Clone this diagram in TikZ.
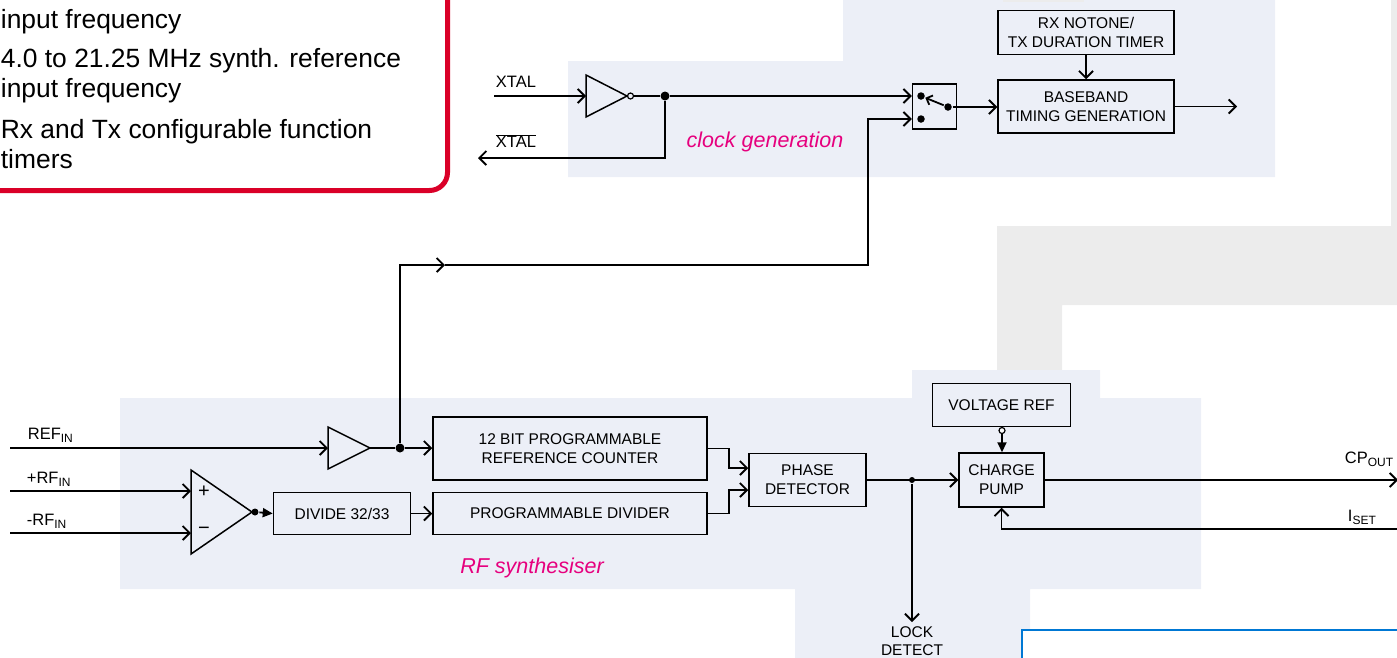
\documentclass[tikz,border=0pt]{standalone}
\usepackage{fontspec}
\setmainfont{Liberation Sans}
\usepackage{tikz}
\usetikzlibrary{arrows.meta}
\usetikzlibrary{positioning}

\definecolor{bandblue}{RGB}{236,239,247}
\definecolor{bandgrey}{RGB}{236,236,236}
\definecolor{alertred}{RGB}{218,0,40}
\definecolor{tagpink}{RGB}{230,0,126}
\definecolor{rimblue}{RGB}{0,120,212}

\tikzset{
  openhead/.tip={Straight Barb[length=7pt,width=14pt,line width=1.9pt]},
  fullhead/.tip={Triangle[length=10pt,width=9pt]},
  armhead/.tip={Straight Barb[length=5pt,width=10pt,line width=1.8pt]}
}
\newcommand{\lowtxt}[1]{\raisebox{-0.45ex}{\fontsize{12}{12}\selectfont #1}}

\begin{document}
\begin{tikzpicture}[x=1pt,y=-1pt,line width=1.8pt,
  blk/.style={draw,line width=1.5pt,inner sep=0pt,align=center,font=\fontsize{15.5}{19}\selectfont},
  pin/.style={inner sep=0pt,font=\fontsize{16.5}{18}\selectfont},
  area/.style={inner sep=0pt,font=\fontsize{21.5}{24}\selectfont\itshape,text=tagpink},
  feat/.style={anchor=base west,inner sep=0pt,font=\fontsize{26.4}{30}\selectfont},
  dot/.style={circle,fill,inner sep=0pt,minimum size=9pt}]
\useasboundingbox (0,0) rectangle (1397,657);
% shaded areas
\fill[bandgrey] (997,226) -- (1402,226) -- (1402,305) -- (1062,305) -- (1062,370) -- (997,370) -- cycle;
\fill[bandgrey] (1391,-2) rectangle (1402,226);
\fill[bandblue] (568,61) -- (843,61) -- (843,-2) -- (1275,-2) -- (1275,177) -- (568,177) -- cycle;
\fill[bandgrey] (1003,-2) rectangle (1084,1.5);
\fill[bandblue] (120,398) -- (912,398) -- (912,370) -- (1100,370) -- (1100,398) -- (1201,398) -- (1201,589)
  -- (1030,589) -- (1030,660) -- (795,660) -- (795,589) -- (120,589) -- cycle;
\draw[rimblue,line width=1.5pt,fill=white] (1022,630) rectangle (1405,665);
\draw[alertred,line width=5pt,rounded corners=18pt] (-30,-30) rectangle (447.5,190.5);
%
\node[feat] (F1) at (0,28) {input frequency};
\node[feat] (F2) at (0,67) {4.0 to 21.25 MHz synth. reference};
\node[feat] (F3) at (0,97) {input frequency};
\node[feat] (F4) at (0,138) {Rx and Tx configurable function};
\node[feat] (F5) at (0,168) {timers};
%
% clock generation
\node[blk,minimum width=176pt,minimum height=53pt] (BBT) at (1086,106.5) {BASEBAND\\TIMING GENERATION};
\node[blk,minimum width=176pt,minimum height=44pt,above=24pt of BBT] (RXT) {RX NOTONE/\\TX DURATION TIMER};
\node[blk,minimum width=44pt,minimum height=45pt] (SW) at (934.5,106.5) {};
\node[dot,minimum size=7.5pt] (SWT) at (921,96) {};
\node[dot,minimum size=7.5pt] (SWB) at (921,119) {};
\node[dot,minimum size=7.5pt] (SWP) at (948,107) {};
\coordinate (XIN) at (494,96);
\coordinate (INV) at (586,96);
\node[circle,draw,line width=1.2pt,inner sep=0pt,minimum size=6pt] (BUB) at (630.5,96) {};
\node[dot] (XJ) at (665,96) {};
\coordinate (XOUT) at (478,158);
\coordinate (BOUT) at (1237,106.5);
\coordinate (MID) at (445,265);
\coordinate (KNEE) at (868,265);
\node[pin] (XTAL) at (516,82) {XTAL};
\node[pin] (XTALN) at (516,141) {$\overline{\mbox{XTAL}}$};
\node[area] (CLK) at (765,142) {clock generation};
\draw[line width=1.5pt] (INV) -- ++(0,-21) -- ++(41,21) -- ++(-41,21) -- cycle;
%
% RF synthesiser
\node[blk,minimum width=274pt,minimum height=63pt] (REFC) at (570,448.5) {12 BIT PROGRAMMABLE\\REFERENCE COUNTER};
\node[blk,minimum width=274pt,minimum height=42pt,below=11pt of REFC] (PDIV) {PROGRAMMABLE DIVIDER};
\node[blk,minimum width=137pt,minimum height=42pt,left=21pt of PDIV] (DIV) {DIVIDE 32/33};
\node[blk,minimum width=117pt,minimum height=53pt] (PD) at (807.5,480) {PHASE\\DETECTOR};
\node[blk,minimum width=85pt,minimum height=54pt] (CP) at (1001.5,480) {CHARGE\\PUMP};
\node[blk,minimum width=138pt,minimum height=43pt,above=25pt of CP] (VREF) {VOLTAGE REF};
\node[circle,draw,fill=white,line width=1.2pt,inner sep=0pt,minimum size=6pt] (VDOT) at (1002,430.5) {};
\coordinate (BUF) at (328,448);
\coordinate (CMP) at (191,512);
\coordinate (RIN) at (10,448);
\coordinate (PIN) at (10,491);
\coordinate (NIN) at (10,533);
\node[dot] (RJ) at (400,448) {};
\node[dot,minimum size=7pt] (CDOT) at (255,512) {};
\node[dot,minimum size=6pt] (LJ) at (912,480) {};
\coordinate (LOUT) at (912,622);
\coordinate (COUT) at (1398,480);
\coordinate (ISIN) at (1400,529);
\draw[line width=1.5pt] (BUF) -- ++(0,-21) -- ++(42,21) coordinate (BUFO) -- ++(-42,21) -- cycle;
\draw[line width=1.5pt] (CMP) -- ++(0,-42) -- ++(61,42) coordinate (CMPO) -- ++(-61,42) -- cycle;
\node[inner sep=0pt,font=\fontsize{20}{20}\selectfont] (PLUS) at (204,492) {+};
\node[inner sep=0pt,font=\fontsize{20}{20}\selectfont] (MINUS) at (204,531) {−};
\node[pin,anchor=base west] (REFL) at (27,439) {REF\lowtxt{IN}};
\node[pin,anchor=base west] (PRFL) at (26,483) {+RF\lowtxt{IN}};
\node[pin,anchor=base west] (NRFL) at (26,525) {-RF\lowtxt{IN}};
\node[pin,anchor=base west] (CPL) at (1344,463) {CP\lowtxt{OUT}};
\node[pin,anchor=base west] (ISL) at (1347,521) {I\lowtxt{SET}};
\node[inner sep=0pt,align=center,anchor=north,font=\fontsize{15.5}{18}\selectfont] (LOCK) at (912,626) {LOCK\\DETECT};
\node[area] (RFS) at (532,568) {RF synthesiser};
%
{
\pgfsetarrows{-}
\draw (BUB) -- (XJ);
\draw (BUFO) -- (RJ);
\draw (CMPO) -- (CDOT);
%
\pgfsetarrows{-openhead}
\path (XIN) edge (INV);
\path (XJ) edge (XJ -| SW.west);
\draw (XJ) |- (XOUT);
\draw (RJ) |- (MID);
\draw (MID) -- (KNEE) |- (SWB -| SW.west);
\path (SWP) edge (SWP -| BBT.west);
\path (RXT) edge (BBT);
\path (BBT.east) edge (BOUT);
\path (RIN) edge (BUF);
\path (RJ) edge (RJ -| REFC.west);
\path (PIN) edge (PIN -| CMP);
\path (NIN) edge (NIN -| CMP);
\path (DIV) edge (PDIV);
\draw (REFC.east) -- ++(21,0) |- ([yshift=12pt]PD.west);
\draw (PDIV.east) -- ++(21,0) |- ([yshift=-10pt]PD.west);
\path (PD) edge (CP);
\path (LJ) edge (LOUT);
\path (CP.east) edge (COUT);
\draw (ISIN) -| (CP.south);
%
\pgfsetarrows{-armhead}
\path (SWP) edge (SWT);
%
\pgfsetarrows{-fullhead}
\path (CDOT) edge (DIV.west);
\path (VDOT) edge (VDOT |- CP.north);
}
\end{tikzpicture}
\end{document}
